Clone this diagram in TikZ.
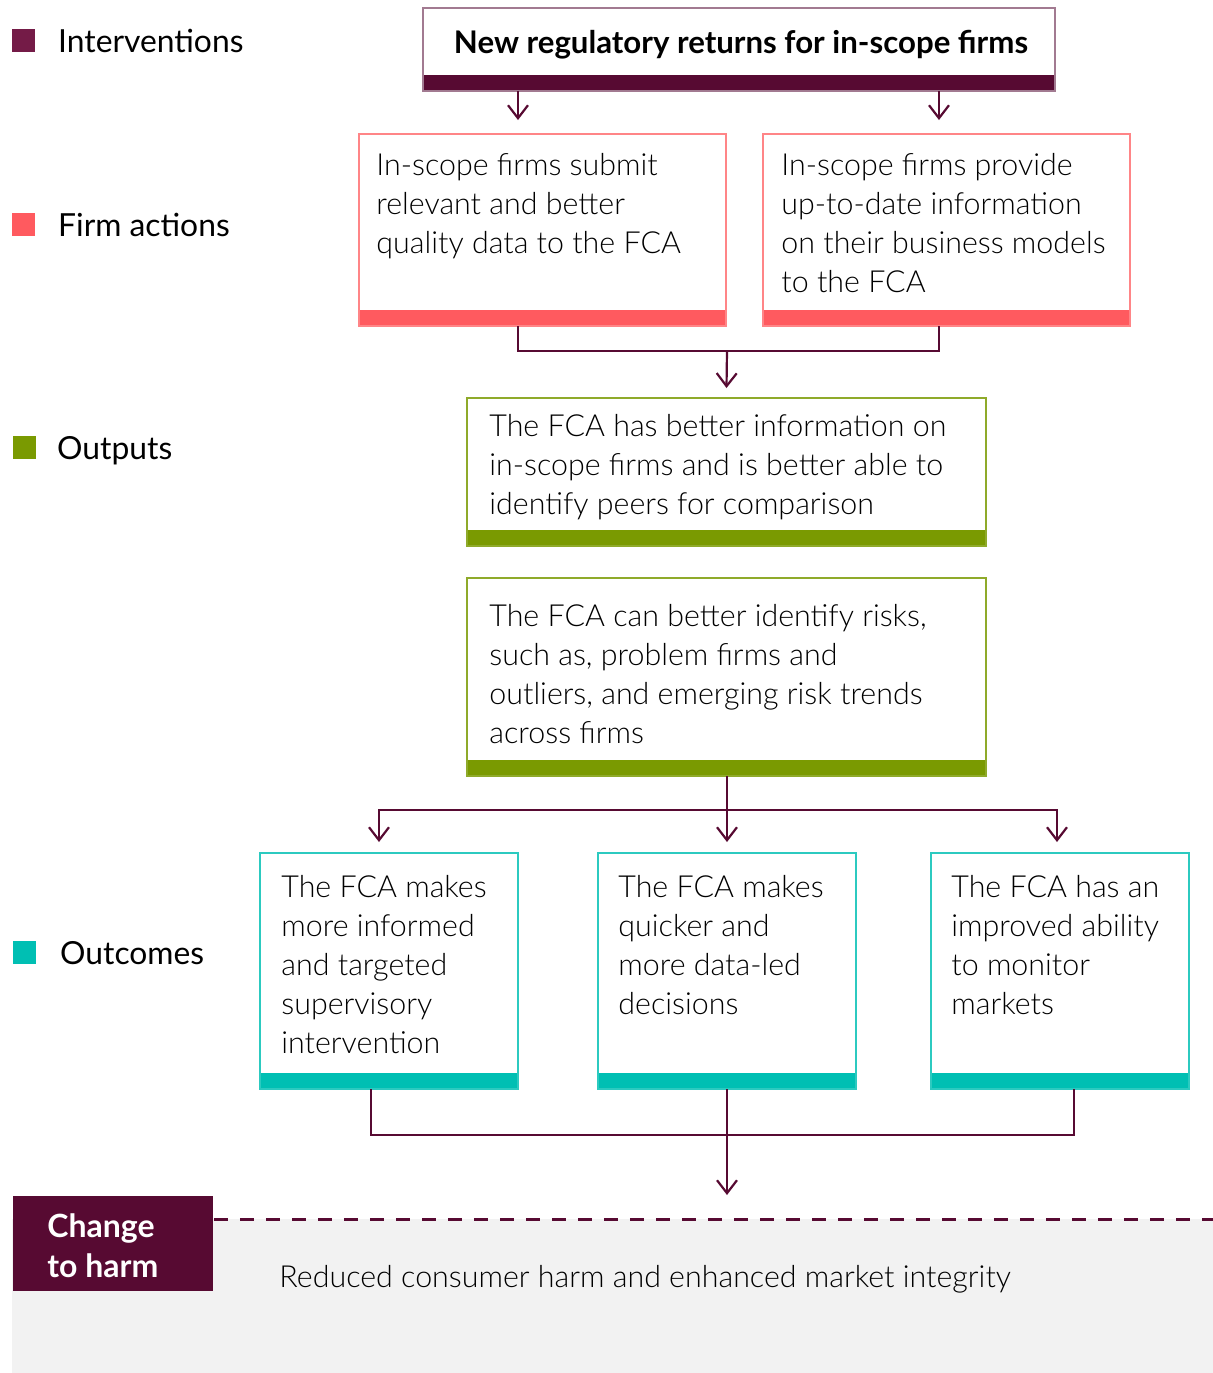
\documentclass[tikz,border=0pt]{standalone}
\usepackage{fontspec}
\IfFontExistsTF{Lato Light}
    {\setmainfont{Lato Light}[BoldFont={Lato Bold}]}
    {\setmainfont{Lato}}
\newfontfamily\legfont{Lato}
\usetikzlibrary{positioning,arrows.meta}

\definecolor{plum}{HTML}{570A32}
\definecolor{plumkey}{HTML}{741B47}
\definecolor{plumedge}{HTML}{A27A91}
\definecolor{coral}{HTML}{FF5A5F}
\definecolor{coraledge}{HTML}{FF8587}
\definecolor{olive}{HTML}{7A9A01}
\definecolor{oliveedge}{HTML}{8FAA2A}
\definecolor{fcateal}{HTML}{00BFB3}
\definecolor{fcatealedge}{HTML}{2CCAC0}
\definecolor{bandgrey}{HTML}{F2F2F2}

\begin{document}
\begin{tikzpicture}[
    x=0.5pt,
    y=-0.5pt,
    >={Straight Barb[length=6.5pt,width=10pt]},
    font=\fontsize{15.2}{19.5}\selectfont,
    stage/.style={
        rectangle,
        fill=white,
        line width=0.6pt,
        inner sep=0pt,
        outer sep=0pt,
        anchor=north west
    },
    intvbox/.style={
        stage,
        draw=plumedge,
        path picture={\fill[plum] (path picture bounding box.south west)
            rectangle ([yshift=8pt]path picture bounding box.south east);}
    },
    firmbox/.style={
        stage,
        draw=coraledge,
        path picture={\fill[coral] (path picture bounding box.south west)
            rectangle ([yshift=8pt]path picture bounding box.south east);}
    },
    outbox/.style={
        stage,
        draw=oliveedge,
        path picture={\fill[olive] (path picture bounding box.south west)
            rectangle ([yshift=8pt]path picture bounding box.south east);}
    },
    outcbox/.style={
        stage,
        draw=fcatealedge,
        path picture={\fill[fcateal] (path picture bounding box.south west)
            rectangle ([yshift=8pt]path picture bounding box.south east);}
    },
    txt/.style={
        anchor=north west,
        align=left,
        inner sep=0pt
    },
    legsq/.style={
        rectangle,
        minimum size=11.5pt,
        inner sep=0pt,
        anchor=north west
    },
    legtxt/.style={
        font=\legfont\fontsize{15.9}{18}\selectfont,
        inner sep=0pt
    },
    link/.style={
        draw=plum,
        line width=1.1pt
    }
]

\useasboundingbox (0,0) rectangle (1213,1373);

% key
\node[legsq, fill=plumkey] (sqI) at (12,29) {};
\node[legtxt, right=11pt of sqI.south east, anchor=base west] (keyI) {Interventions};

\node[legsq, fill=coral] (sqF) at (12,213) {};
\node[legtxt, right=11pt of sqF.south east, anchor=base west] (keyF) {Firm actions};

\node[legsq, fill=olive] (sqO) at (13,436) {};
\node[legtxt, right=10pt of sqO.south east, anchor=base west] (keyO) {Outputs};

\node[legsq, fill=fcateal] (sqC) at (13,941) {};
\node[legtxt, right=11.5pt of sqC.south east, anchor=base west] (keyC) {Outcomes};

% boxes
\node[intvbox, minimum width=316pt, minimum height=41.5pt] (intv) at (423,8) {};
\node[anchor=base, inner sep=0pt, font=\bfseries\fontsize{15.6}{19.5}\selectfont] (intvt) at (741,53)
    {New regulatory returns for in-scope firms};

\node[firmbox, minimum width=183.5pt, minimum height=96pt] (fa1) at (359,134) {};
\node[txt] (fa1t) at ([shift={(17,19)}]fa1.north west)
    {In-scope firms submit\\
     relevant and better\\
     quality data to the FCA};

\node[firmbox, minimum width=183.5pt, minimum height=96pt] (fa2) at (763,134) {};
\node[txt] (fa2t) at ([shift={(18,19)}]fa2.north west)
    {In-scope firms provide\\
     up-to-date information\\
     on their business models\\
     to the FCA};

\node[outbox, minimum width=259.5pt, minimum height=74pt] (op1) at (467,398) {};
\node[txt] (op1t) at ([shift={(22,16)}]op1.north west)
    {The FCA has better information on\\
     in-scope firms and is better able to\\
     identify peers for comparison};

\node[outbox, minimum width=259.5pt, minimum height=99pt] (op2) at (467,578) {};
\node[txt] (op2t) at ([shift={(22,26)}]op2.north west)
    {The FCA can better identify risks,\\
     such as, problem firms and\\
     outliers, and emerging risk trends\\
     across firms};

\node[outcbox, minimum width=129pt, minimum height=118pt] (oc1) at (260,853) {};
\node[txt] (oc1t) at ([shift={(21,22)}]oc1.north west)
    {The FCA makes\\
     more informed\\
     and targeted\\
     supervisory\\
     intervention};

\node[outcbox, minimum width=129pt, minimum height=118pt] (oc2) at (598,853) {};
\node[txt] (oc2t) at ([shift={(20,22)}]oc2.north west)
    {The FCA makes\\
     quicker and\\
     more data-led\\
     decisions};

\node[outcbox, minimum width=129pt, minimum height=118pt] (oc3) at (931,853) {};
\node[txt] (oc3t) at ([shift={(20,22)}]oc3.north west)
    {The FCA has an\\
     improved ability\\
     to monitor\\
     markets};

% change to harm
\node[rectangle, fill=bandgrey, inner sep=0pt, anchor=north west,
      minimum width=600.5pt, minimum height=77pt] (band) at (12,1219) {};
\node[rectangle, fill=plum, inner sep=0pt, anchor=north west,
      minimum width=100pt, minimum height=47.5pt] (harm) at (13,1196) {};
\node[txt, text=white, font=\bfseries\fontsize{16}{20}\selectfont] (harmt) at (47,1213)
    {Change\\to harm};
\node[inner sep=0pt, anchor=base west] (result) at (279,1287)
    {Reduced consumer harm and enhanced market integrity};

\draw[draw=plum, line width=1.5pt, dash pattern=on 7pt off 6pt]
    (harm.east |- band.north) --
    (band.north east);

% connectors
\coordinate (tipA) at (518,120);
\coordinate (tipB) at (939,120);
\coordinate (joinF) at (727,351);
\coordinate (splitO) at (727,810);
\coordinate (tipL) at (379,842);
\coordinate (tipM) at (727,842);
\coordinate (tipR) at (1057,842);
\coordinate (legL) at (371,1135);
\coordinate (legR) at (1074,1135);
\coordinate (tipH) at (727,1195);

\draw[link, ->]
    (intv.south -| tipA) --
    (tipA);

\draw[link, ->]
    (intv.south -| tipB) --
    (tipB);

\draw[link]
    (fa1.south -| tipA) |-
    (joinF) -|
    (fa2.south -| tipB);

\draw[link, ->]
    (joinF) --
    ([yshift=5pt]op1.north);

\draw[link]
    (op2.south -| splitO) --
    (splitO);

\draw[link, ->]
    (splitO) -|
    (tipL);

\draw[link, ->]
    (splitO) -|
    (tipR);

\draw[link, ->]
    (splitO) --
    (tipM);

\draw[link]
    (oc1.south -| legL) --
    (legL) --
    (legR) --
    (oc3.south -| legR);

\draw[link, ->]
    (oc2.south) --
    (tipH);

\end{tikzpicture}
\end{document}
